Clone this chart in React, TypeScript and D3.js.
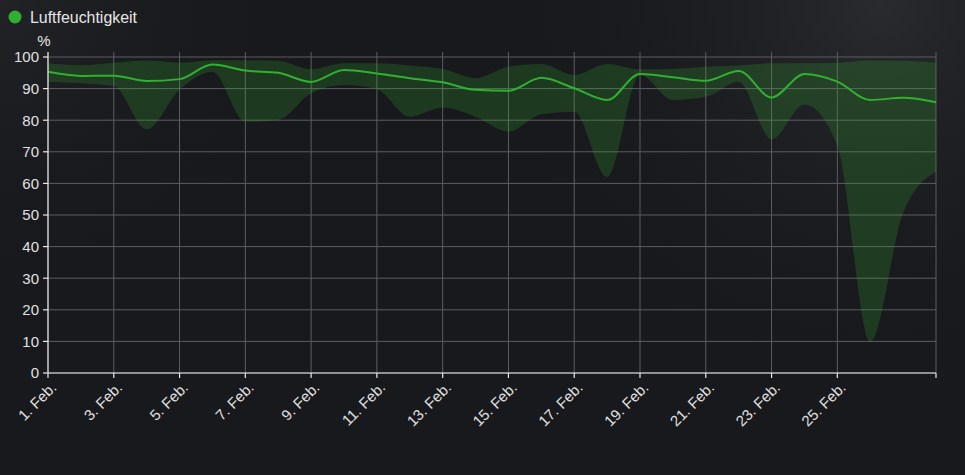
import React from "react";
import * as d3 from "d3";

const days: number[] = [1,2,3,4,5,6,7,8,9,10,11,12,13,14,15,16,17,18,19,20,21,22,23,24,25,26,27,28];
const humidityMean: number[] = [95.3,94.0,94.1,92.4,93.0,97.6,95.7,95.0,92.1,95.9,94.8,93.3,92.0,89.6,89.3,93.4,90.1,86.4,94.6,93.6,92.5,95.6,87.2,94.6,92.2,86.4,87.1,85.7];
const humidityMax: number[] = [98.0,97.4,98.2,98.9,98.2,99.0,99.0,98.8,96.1,98.0,98.0,97.3,96.2,93.3,96.9,97.8,94.3,97.8,96.1,96.2,96.9,97.3,98.0,98.0,98.2,98.9,98.8,98.2];
const humidityMin: number[] = [92.2,91.7,90.8,77.1,89.6,95.3,79.5,80.1,88.5,91.1,89.8,81.1,84.0,81.1,76.4,81.9,82.7,62.1,94.3,86.4,87.4,92.2,74.0,85.0,72.0,9.9,50.6,63.7];
const yTicks: number[] = [0,10,20,30,40,50,60,70,80,90,100];
const xTickDays: number[] = [1,3,5,7,9,11,13,15,17,19,21,23,25];
const seriesName = "Luftfeuchtigkeit";
const unit = "%";

const W = 965, H = 475;
const left = 48, right = 936, top = 57, bottom = 373, axisTop = 52;
const FONT = "'Liberation Sans', Arial, sans-serif";
const GREEN = "#30b030";

export default function App() {
  const date = (d: number) => new Date(2024, 1, d);
  const x = d3.scaleTime().domain([date(1), date(28)]).range([left, right]);
  const y = d3.scaleLinear().domain([0, 100]).range([bottom, top]);

  const rows = days.map((d, i) => ({ t: date(d), mean: humidityMean[i], min: humidityMin[i], max: humidityMax[i] }));
  const area = d3.area<any>().x(r => x(r.t)).y0(r => y(r.min)).y1(r => y(r.max)).curve(d3.curveMonotoneX);
  const line = d3.line<any>().x(r => x(r.t)).y(r => y(r.mean)).curve(d3.curveMonotoneX);

  const gridX = [...xTickDays.map(d => x(date(d))), x(date(28))];

  return (
    <div style={{ position: "fixed", left: 0, top: 0, width: W, height: H }}>
      <svg width={W} height={H} style={{ display: "block" }} fontFamily={FONT}>
        <defs>
          <radialGradient id="bgGlow" cx="880" cy="0" r="380" gradientUnits="userSpaceOnUse">
            <stop offset="0" stopColor="#2a2b2e" />
            <stop offset="1" stopColor="#18191c" stopOpacity="0" />
          </radialGradient>
          <radialGradient id="bgGlow2" cx="0" cy="0" r="300" gradientUnits="userSpaceOnUse">
            <stop offset="0" stopColor="#222326" />
            <stop offset="1" stopColor="#18191c" stopOpacity="0" />
          </radialGradient>
        </defs>
        <rect width={W} height={H} fill="#18191c" />
        <rect width={W} height={H} fill="url(#bgGlow)" />
        <rect width={W} height={H} fill="url(#bgGlow2)" />

        {/* legend */}
        <circle cx={15} cy={17} r={6.5} fill={GREEN} />
        <text x={30} y={23} fontSize={16} fill="#e6e6e6" textLength={107} lengthAdjust="spacingAndGlyphs">{seriesName}</text>
        <text x={44} y={46} fontSize={15} fill="#e6e6e6" textAnchor="middle">{unit}</text>

        {/* horizontal grid */}
        {yTicks.map(t => (
          <line key={"hy" + t} x1={left} x2={right} y1={y(t)} y2={y(t)} stroke="#5c5d60" strokeWidth={1} />
        ))}
        {/* vertical grid */}
        {gridX.map((gx, i) => (
          <line key={"gx" + i} x1={gx} x2={gx} y1={axisTop} y2={bottom} stroke="#5c5d60" strokeWidth={1} />
        ))}

        {/* data */}
        <path d={area(rows) || ""} fill={GREEN} fillOpacity={0.22} />
        <path d={line(rows) || ""} fill="none" stroke={GREEN} strokeWidth={2} />

        {/* axes */}
        <line x1={left} x2={left} y1={axisTop} y2={bottom} stroke="#e8e8e8" strokeWidth={1.2} />
        <line x1={left} x2={right} y1={bottom} y2={bottom} stroke="#e8e8e8" strokeWidth={1.2} />
        {yTicks.map(t => (
          <g key={"yt" + t}>
            <line x1={left - 5} x2={left} y1={y(t)} y2={y(t)} stroke="#e8e8e8" strokeWidth={1.2} />
            <text x={39} y={y(t)} dy="0.36em" fontSize={15} fill="#e0e0e0" textAnchor="end">{t}</text>
          </g>
        ))}
        {gridX.map((gx, i) => (
          <line key={"xt" + i} x1={gx} x2={gx} y1={bottom} y2={bottom + 5} stroke="#e8e8e8" strokeWidth={1.2} />
        ))}
        {xTickDays.map(d => {
          const gx = x(date(d));
          return (
            <text key={"xl" + d} transform={`translate(${gx + 2},${bottom + 8}) rotate(-45)`} fontSize={15} fill="#e0e0e0" textAnchor="end" dy="0.7em">
              {`${d}. Feb.`}
            </text>
          );
        })}
      </svg>
    </div>
  );
}
